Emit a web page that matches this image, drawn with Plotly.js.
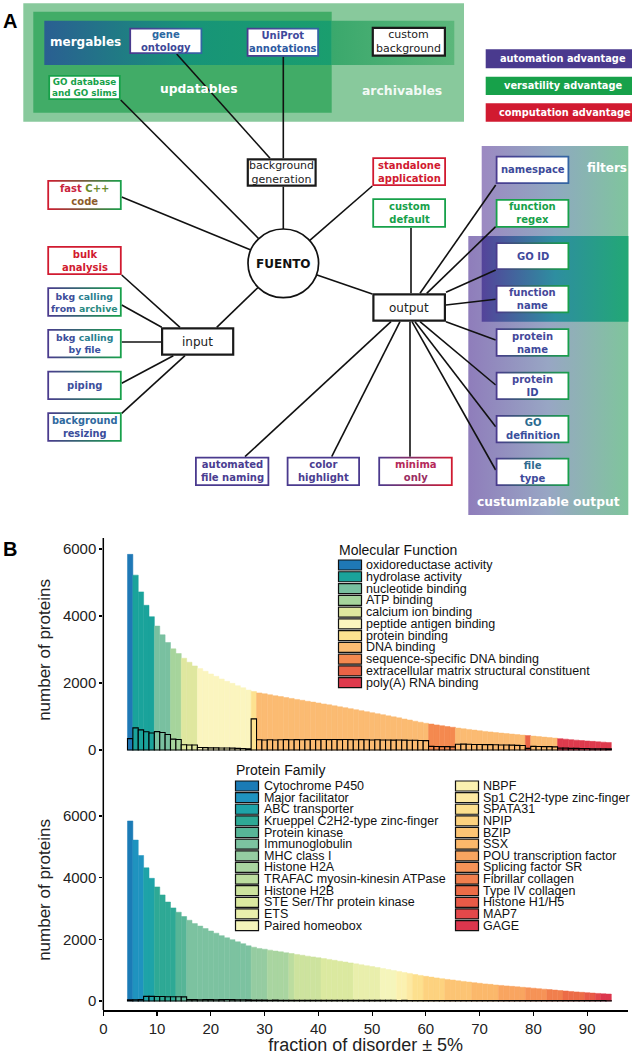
<!DOCTYPE html>
<html><head><meta charset="utf-8">
<script src="https://cdn.plot.ly/plotly-3.0.1.min.js"></script>
<style>html,body{margin:0;padding:0;background:#fff}#chart{width:632px;height:1055px}</style>
</head><body><div id="chart"></div>
<script>
const W = 632, H = 1055;

// ---------------- DATA (panel B) ----------------
const bins = [5,6,7,8,9,10,11,12,13,14,15,16,17,18,19,20,21,22,23,24,25,26,27,28,29,30,31,32,33,34,35,36,37,38,39,40,41,42,43,44,45,46,47,48,49,50,51,52,53,54,55,56,57,58,59,60,61,62,63,64,65,66,67,68,69,70,71,72,73,74,75,76,77,78,79,80,81,82,83,84,85,86,87,88,89,90,91,92,93,94];
const totalProteins = [5840,5220,4720,4320,3980,3700,3440,3210,3020,2880,2740,2620,2510,2430,2350,2270,2200,2120,2050,1990,1920,1860,1790,1745,1705,1680,1650,1620,1595,1565,1540,1510,1485,1455,1430,1405,1375,1350,1320,1290,1265,1235,1205,1175,1145,1115,1085,1055,1020,990,960,925,895,860,830,800,775,750,725,700,680,655,635,615,595,575,555,540,520,505,490,475,460,445,430,415,400,385,370,355,340,325,310,295,282,270,258,246,235,225];

const mfCategories = ['oxidoreductase activity','hydrolase activity','nucleotide binding','ATP binding','calcium ion binding','peptide antigen binding','protein binding','DNA binding','sequence-specific DNA binding','extracellular matrix structural constituent','poly(A) RNA binding'];
const mfColors = ['#1f78b6','#1aa39b','#79c0a0','#a6d49c','#dfe79f','#fbf5bf','#fde290','#fbbb72','#f4894f','#ea6346','#de3a4d'];
const mfRunCat = [0,1,2,3,4,5,6,7,8,7,9,7,10];
const mfRunLen = [1,4,3,2,3,10,1,32,5,13,1,5,10];
const mfDominant = [340,660,600,545,510,550,525,465,325,315,155,150,150,75,70,65,65,60,60,55,50,45,35,930,
  305,300,305,300,305,310,305,310,305,310,315,310,315,310,315,310,315,310,305,310,305,300,305,300,300,295,300,295,290,290,285,280,
  110,105,100,100,95,
  170,175,170,165,165,160,160,155,150,150,145,140,135,
  50,
  110,105,100,100,95,
  55,55,50,50,45,45,40,40,40,35];

const pfCategories = ['Cytochrome P450','Major facilitator','ABC transporter','Krueppel C2H2-type zinc-finger','Protein kinase','Immunoglobulin','MHC class I','Histone H2A','TRAFAC myosin-kinesin ATPase','Histone H2B','STE Ser/Thr protein kinase','ETS','Paired homeobox','NBPF','Sp1 C2H2-type zinc-finger','SPATA31','NPIP','BZIP','SSX','POU transcription factor','Splicing factor SR','Fibrillar collagen','Type IV collagen','Histone H1/H5','MAP7','GAGE'];
const pfColors = ['#1b7bb6','#1f93bf','#1ea3a8','#2ea995','#57b597','#7cc2a0','#95cca1','#a9d5a0','#bcdd9f','#cde39e','#dbe9a0','#e9efac','#f5f5bb','#fbf1b0','#fde9a2','#fde08e','#fdd27f','#fcc474','#fbb86b','#f9a560','#f69357','#f17f4d','#ec6c47','#e85a47','#e3484a','#dc364d'];
const pfRunCat = [0,1,2,3,4,5,6,7,8,9,10,11,12,13,14,15,16,17,18,19,20,21,22,23,24,25];
const pfRunLen = [1,2,2,4,2,12,3,4,1,5,6,5,3,2,1,2,4,5,5,5,4,3,4,2,1,2];
const pfDominant = [35,40,45,150,150,145,145,140,140,140,135,45,45,40,45,45,40,45,50,45,40,40,35,
  30,28,28,26,27,25,26,25,24,25,24,23,24,22,23,22,22,21,22,21,20,21,20,20,19,20,19,18,19,18,
  18,18,17,18,17,17,16,17,16,16,15,16,15,15,15,14,15,14,14,14,13,14,13,13,13,12,13,12,12,12,12,11,12,11,11,11,10];

const xTickVals = [0,10,20,30,40,50,60,70,80,90];
const yTickVals = [0,2000,4000,6000];

// ---------------- helpers ----------------
const px = x => x / W, py = y => 1 - y / H;
function expand(cats, lens){ const o=[]; cats.forEach((c,i)=>{ for(let k=0;k<lens[i];k++) o.push(c); }); return o; }
const mfBarColors = expand(mfRunCat, mfRunLen).map(c => mfColors[c]);
const pfBarColors = expand(pfRunCat, pfRunLen).map(c => pfColors[c]);

const traces = [];
function bars(y, yaxis, colors, outline){
  return {type:'bar', x:bins, y:y, xaxis:'x', yaxis:yaxis, showlegend:false, hoverinfo:'skip',
    marker:{color:colors, line: outline ? {color:'#000', width:1.1} : {color:colors, width:0.5}}};
}
traces.push(bars(totalProteins,'y2',mfBarColors,false));
traces.push(bars(mfDominant,'y2',mfBarColors,true));
traces.push(bars(totalProteins,'y',pfBarColors,false));
traces.push(bars(pfDominant,'y',pfBarColors,true));

// ---------------- panel A diagram (pixel frame on x3/y3) ----------------
const PURPLE='#4a3a8e', GREEN='#17a14a', RED='#d11a30', BLACK='#1a1a1a';
function rect(x0,y0,x1,y1,colors){
  const t = {type:'scatter', mode:'none', x:[x0,x1,x1,x0,x0], y:[y0,y0,y1,y1,y0], fill:'toself',
    fillcolor: colors[Math.floor(colors.length/2)], xaxis:'x3', yaxis:'y3', hoverinfo:'skip', showlegend:false};
  if (colors.length > 1) t.fillgradient = {type:'horizontal', colorscale: colors.map((c,i)=>[i/(colors.length-1), c])};
  return t;
}
// background regions
traces.push(rect(23.3,3.3,464,121.7,['#88c99c']));
traces.push(rect(33.3,11.7,331.7,112.7,['#41ac67']));
traces.push(rect(44.3,20.7,331.7,65,['#2a5f92','#179478','#1a9e6e']));
traces.push(rect(331.7,20.7,454.3,65,['#3aa86c','#5cb77b']));
traces.push(rect(481.7,146,628.3,321.7,['#9c89c2','#8fa9c0','#7fc59d']));
traces.push(rect(468.3,236,628.3,515,['#8f7dbb','#98a6c4','#7fc59c']));
traces.push(rect(481.7,236,628.3,321.7,['#54439a','#2e8ea0','#22a875']));
// advantage key
traces.push(rect(485.7,49.3,645,68.3,[PURPLE]));
traces.push(rect(485.7,76.7,645,95,[GREEN]));
traces.push(rect(485.7,103.3,645,121.7,[RED]));

// edges
const edges = [
  [120.7,100,258.5,238.5],[176.7,54,270,158.3],[283.3,56.7,283.3,158.3],[283.3,186.7,283.3,230],
  [121.7,197,250.9,250],[258,287.5,216.7,327.3],[121.7,275,180,327.3],[121.7,305,161.7,327.3],
  [121.7,342,161,342],[121.7,383.3,173.3,355.7],[121.7,413.3,185,355.7],
  [316.3,274.8,372.3,294],[309.8,240.4,372.3,186],[411,227.7,411,293.3],
  [420,293.3,495.7,185],[426.7,293.3,495.7,226.7],[446,292.3,495.7,270],[446,305,495.7,299.3],
  [446,321.7,495.7,340],[420,321.7,495.7,385],[415,321.7,495.7,426.7],[412,321.7,495.7,470],
  [410,321.7,410,456.7],[400,321.7,331.7,456.7],[391,321.7,245,456.7]
];
const ex=[], ey=[];
edges.forEach(e=>{ ex.push(e[0],e[2],null); ey.push(e[1],e[3],null); });
traces.push({type:'scatter', mode:'lines', x:ex, y:ey, line:{color:'#111', width:1.6}, xaxis:'x3', yaxis:'y3', hoverinfo:'skip', showlegend:false});

const c = (col, s) => `<span style="color:${col}">${s}</span>`;
const nodes = [
  {b:[129.3,27.7,202.3,54], bc:[PURPLE,'#3366a3'], t: c('#2c68a2','gene')+'<br>'+c('#3d4898','ontology')},
  {b:[246.7,27.7,319,56.7], bc:[PURPLE,'#3366a3'], t: c('#3f4a9c','UniProt')+'<br>'+c('#2e5aa2','annotations')},
  {b:[371.7,26.7,446,56.7], bc:[BLACK], bw:2.2, plain:true, t:'custom<br>background'},
  {b:[48.3,75,120.7,100], bc:[GREEN], size:8.8, t: c(GREEN,'GO database<br>and GO slims')},
  {b:[246.7,158.3,316.7,186.7], bc:[BLACK], bw:2.2, plain:true, t:'background<br>generation'},
  {b:[47.3,180,121.7,210], bc:[RED,GREEN], t: c('#c9233d','fast ')+c('#6b8b2b','C++')+'<br>'+c('#8d5c2b','code')},
  {b:[47.3,246,121.7,275], bc:[RED], t: c(RED,'bulk<br>analysis')},
  {b:[47.3,287.3,121.7,316.7], bc:[PURPLE,GREEN], size:9.3, t: c('#3d4d9a','bkg ')+c('#2a7f8f','calling')+'<br>'+c('#3d4d9a','from ')+c('#2a8a80','archive')},
  {b:[47.3,329,121.7,358.3], bc:[PURPLE,GREEN], size:9.3, t: c('#3d4d9a','bkg ')+c('#2a7f8f','calling')+'<br>'+c('#3a52a0','by file')},
  {b:[47.3,370.7,121.7,400], bc:[PURPLE,GREEN], t: c('#3d4f9c','piping')},
  {b:[47.3,412.3,121.7,441.7], bc:[PURPLE,GREEN], size:9.8, t: c('#2f6aa0','background')+'<br>'+c('#3a4d9b','resizing')},
  {b:[161,327.3,234.3,355.7], bc:[BLACK], bw:2.2, plain:true, size:12, t:'input'},
  {b:[195,456.7,269.3,486], bc:[PURPLE], t: c('#4a3d91','automated<br>file naming')},
  {b:[286.7,456.7,360,486], bc:[PURPLE], t: c('#4a3d91','color<br>highlight')},
  {b:[378.3,456.7,452.7,486], bc:[PURPLE,RED], t: c('#b52a5a','minima')+'<br>'+c('#9a2d62','only')},
  {b:[372.3,157.3,446,186], bc:[RED], t: c(RED,'standalone<br>application')},
  {b:[372.3,198.3,446,227.7], bc:[GREEN], t: c(GREEN,'custom<br>default')},
  {b:[372.3,293.3,446,321.7], bc:[BLACK], bw:2.2, plain:true, size:12, t:'output'},
  {b:[495.7,155.7,569.3,184], bc:[PURPLE,'#3366a3'], t: c('#3d4a9a','namespace')},
  {b:[495.7,199,569.3,227.7], bc:[GREEN], t: c(GREEN,'function<br>regex')},
  {b:[495.7,242.3,569.3,270], bc:[PURPLE,GREEN], t: c('#3f4a9c','GO ID')},
  {b:[495.7,285,569.3,313.3], bc:[PURPLE,GREEN], t: c('#45489a','function')+'<br>'+c('#3f4a9c','name')},
  {b:[495.7,328.3,569.3,356.7], bc:[PURPLE,GREEN], t: c('#45489a','protein')+'<br>'+c('#3f4a9c','name')},
  {b:[495.7,371.7,569.3,400], bc:[PURPLE,GREEN], t: c('#45489a','protein')+'<br>'+c('#3a4a9a','ID')},
  {b:[495.7,415,569.3,443.3], bc:[PURPLE,GREEN], t: c('#2a6a8f','GO')+'<br>'+c('#3a4f9c','definition')},
  {b:[495.7,457.7,569.3,486], bc:[PURPLE,GREEN], t: c('#2f6a8f','file')+'<br>'+c('#3d4a9a','type')}
];
const wx=[], wy=[];
const annotations = [];
nodes.forEach(n=>{
  const [x0,y0,x1,y1] = n.b;
  traces.push(rect(x0,y0,x1,y1,n.bc));
  const bw = n.bw || 1.8;
  wx.push(x0+bw,x1-bw,x1-bw,x0+bw,x0+bw,null);
  wy.push(y0+bw,y0+bw,y1-bw,y1-bw,y0+bw,null);
  annotations.push({xref:'x3', yref:'y3', x:(x0+x1)/2, y:(y0+y1)/2, xanchor:'center', yanchor:'middle', showarrow:false, align:'center',
    text: n.plain ? n.t : '<b>'+n.t+'</b>',
    font:{family:'DejaVu Sans', size: n.size || (n.plain ? 11 : 10), color:'#222'}});
});
traces.push({type:'scatter', mode:'none', x:wx, y:wy, fill:'toself', fillcolor:'#ffffff', xaxis:'x3', yaxis:'y3', hoverinfo:'skip', showlegend:false});

const whiteLabels = [
  ['mergables',85.8,41.7,12,'#ffffff'],['updatables',198.7,89.3,12.3,'#ffffff'],['archivables',401.7,90,12.4,'rgba(255,255,255,0.92)'],
  ['filters',606.7,168.3,12,'#ffffff'],['custumizable output',548.3,501.7,12.3,'#ffffff'],
  ['automation advantage',563,58.8,9.8,'#ffffff'],['versatility advantage',563,85.9,9.8,'#ffffff'],['computation advantage',565,112.5,9.8,'#ffffff']
];
whiteLabels.forEach(l=>annotations.push({xref:'x3', yref:'y3', x:l[1], y:l[2], xanchor:'center', yanchor:'middle', showarrow:false, text:'<b>'+l[0]+'</b>',
  font:{family:'DejaVu Sans', size:l[3], color:l[4]}}));
annotations.push({xref:'x3', yref:'y3', x:283.3, y:263.5, xanchor:'center', yanchor:'middle', showarrow:false, text:'<b>FUENTO</b>', font:{family:'DejaVu Sans', size:12, color:'#111'}});

// panel letters
annotations.push({xref:'paper', yref:'paper', x:px(10), y:py(21), xanchor:'center', yanchor:'middle', showarrow:false, text:'<b>A</b>', font:{family:'Liberation Sans', size:20, color:'#000'}});
annotations.push({xref:'paper', yref:'paper', x:px(10.5), y:py(549), xanchor:'center', yanchor:'middle', showarrow:false, text:'<b>B</b>', font:{family:'Liberation Sans', size:20, color:'#000'}});

// legends (panel B)
const shapes = [];
shapes.push({type:'line', xref:'paper', yref:'paper', x0:px(103.3), x1:px(103.3), y0:py(538), y1:py(1010), line:{color:'#000', width:1.5}});
shapes.push({type:'circle', xref:'x3', yref:'y3', x0:248, x1:318.6, y0:229, y1:297.6, fillcolor:'#fff', line:{color:'#111', width:1.7}});
function legend(title, tx, ty, cats, cols, sx, tX, y0, step){
  if (title) annotations.push({xref:'paper', yref:'paper', x:px(tx), y:py(ty), xanchor:'left', yanchor:'middle', showarrow:false,
    text:title, font:{family:'Liberation Sans', size:14, color:'#111'}});
  cats.forEach((cat,i)=>{
    const cy = y0 + i*step;
    shapes.push({type:'rect', xref:'paper', yref:'paper', x0:px(sx), x1:px(sx+23), y0:py(cy-5), y1:py(cy+5), fillcolor:cols[i], line:{color:'#111', width:1.2}});
    annotations.push({xref:'paper', yref:'paper', x:px(tX), y:py(cy), xanchor:'left', yanchor:'middle', showarrow:false,
      text:cat, font:{family:'Liberation Sans', size:12.5, color:'#111'}});
  });
}
legend('Molecular Function', 337, 550, mfCategories, mfColors, 338.5, 364, 565, 11.77);
legend('Protein Family', 234, 770, pfCategories.slice(0,13), pfColors.slice(0,13), 235.5, 261.5, 786, 11.63);
legend(null, 0, 0, pfCategories.slice(13), pfColors.slice(13), 455.5, 481, 786, 11.63);

const tickFont = {family:'Liberation Sans', size:15, color:'#222'};
const yCommon = {tickvals:yTickVals, ticks:'outside', ticklen:3, tickwidth:1.2, tickcolor:'#000', showline:false, showgrid:false, zeroline:false,
  tickfont:tickFont, anchor:'x', fixedrange:true, automargin:false};
const layout = {
  width:W, height:H, margin:{l:0,r:0,t:0,b:0}, paper_bgcolor:'#fff', plot_bgcolor:'rgba(0,0,0,0)',
  barmode:'overlay', bargap:0, showlegend:false,
  xaxis:{domain:[px(103.3), px(628)], range:[0,97.6], anchor:'y', tickvals:xTickVals, ticks:'outside', ticklen:4, tickwidth:1.2, tickcolor:'#000',
    showline:true, linecolor:'#000', linewidth:1.5, showgrid:false, zeroline:false, tickfont:tickFont, fixedrange:true, automargin:false,
    title:{text:'fraction of disorder ± 5%', font:{family:'Liberation Sans', size:18, color:'#222'}, standoff:6}},
  yaxis:Object.assign({}, yCommon, {domain:[py(1010), py(770)], range:[-292,7493],
    title:{text:'number of proteins', font:{family:'Liberation Sans', size:17, color:'#222'}, standoff:7}}),
  yaxis2:Object.assign({}, yCommon, {domain:[py(760), py(540)], range:[-298,6269],
    title:{text:'number of proteins', font:{family:'Liberation Sans', size:17, color:'#222'}, standoff:7}}),
  xaxis3:{domain:[0,1], range:[0,W], anchor:'y3', visible:false, fixedrange:true},
  yaxis3:{domain:[0,1], range:[H,0], anchor:'x3', visible:false, fixedrange:true},
  shapes:shapes, annotations:annotations
};
Plotly.newPlot('chart', traces, layout, {staticPlot:true, displayModeBar:false});
</script></body></html>
